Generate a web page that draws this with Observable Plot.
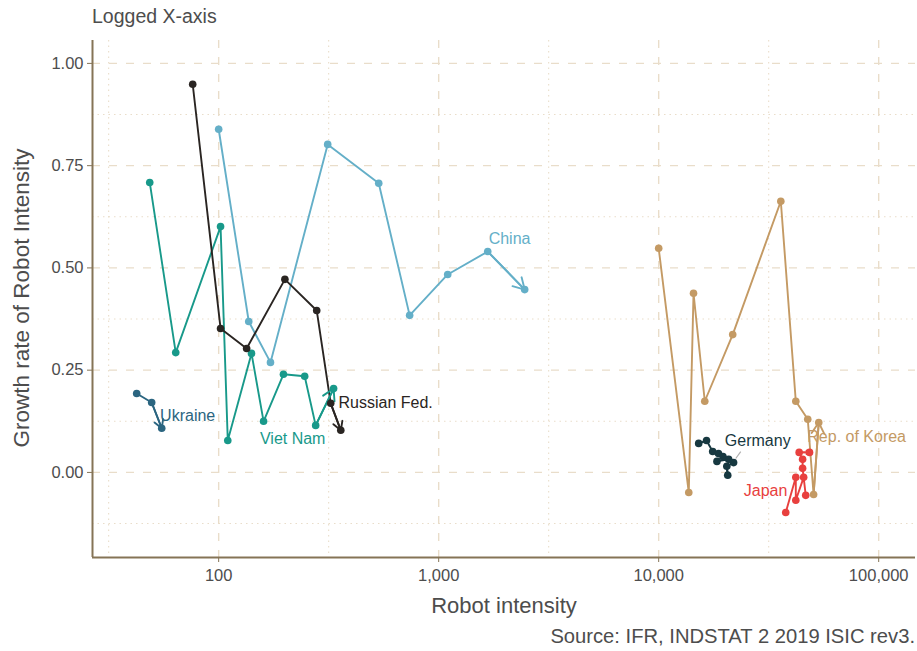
<!DOCTYPE html>
<html>
<head>
<meta charset="utf-8">
<script src="https://cdn.jsdelivr.net/npm/d3@7"></script>
<script src="https://cdn.jsdelivr.net/npm/@observablehq/plot@0.6"></script>
<style>
  body { margin: 0; background: #fff; font-family: "Liberation Sans", Arial, sans-serif; }
  #wrap { position: relative; width: 917px; height: 651px; }
  #chart { position: absolute; left: 0; top: 0; }
  .txt { position: absolute; color: #4d4d4d; white-space: nowrap; line-height: 1; }
  #title { left: 92px; top: 7px; font-size: 19.5px; }
  #xlab { left: 0; width: 1008px; text-align: center; top: 595px; font-size: 22px; }
  #ylab { left: 22px; top: 298px; font-size: 22.5px; transform: translate(-50%, -50%) rotate(-90deg); }
  #caption { right: 2px; top: 626px; font-size: 20.2px; }
</style>
</head>
<body>
<div id="wrap">
  <div id="chart"></div>
  <div class="txt" id="title">Logged X-axis</div>
  <div class="txt" id="ylab">Growth rate of Robot Intensity</div>
  <div class="txt" id="xlab">Robot intensity</div>
  <div class="txt" id="caption">Source: IFR, INDSTAT 2 2019 ISIC rev3.</div>
</div>
<script>
// Robot intensity (x) and its growth rate (y), one path per country, in time order
const chinaIntensity   = [100, 137, 172, 313, 534, 738, 1099, 1671, 2460];
const chinaGrowth      = [0.839, 0.369, 0.269, 0.802, 0.707, 0.384, 0.484, 0.540, 0.447];

const russiaIntensity  = [76.2, 102, 134, 200, 279, 323, 359];
const russiaGrowth     = [0.949, 0.352, 0.303, 0.472, 0.396, 0.169, 0.103];

const vietIntensity    = [48.6, 63.8, 102, 110, 141, 160, 197, 246, 276, 333];
const vietGrowth       = [0.709, 0.293, 0.601, 0.078, 0.291, 0.125, 0.240, 0.235, 0.115, 0.205];

const ukraineIntensity = [42.4, 49.6, 55.1];
const ukraineGrowth    = [0.193, 0.171, 0.108];

const koreaIntensity   = [10000, 13700, 14400, 16200, 21700, 35900, 42000, 47600, 50600, 53400];
const koreaGrowth      = [0.548, -0.049, 0.438, 0.174, 0.337, 0.663, 0.174, 0.130, -0.054, 0.122];

const germanyIntensity = [15200, 16500, 17600, 18700, 19600, 18400, 20800, 21900, 20400, 20600];
const germanyGrowth    = [0.071, 0.078, 0.051, 0.046, 0.039, 0.027, 0.032, 0.024, 0.015, -0.007];

const japanIntensity   = [37800, 42000, 42000, 45600, 46600, 45100, 45100, 43500, 48500];
const japanGrowth      = [-0.098, -0.012, -0.068, -0.012, -0.056, 0.010, 0.032, 0.049, 0.049];

// Country labels and where they sit
const labelNames = ["China", "Ukraine", "Viet Nam", "Russian Fed.", "Germany", "Japan", "Rep. of Korea"];
const labelX     = [2100, 72.3, 217, 574, 28200, 30600, 79400];
const labelY     = [0.570, 0.139, 0.081, 0.169, 0.078, -0.044, 0.086];

// Axis ticks
const xTicks = [100, 1000, 10000, 100000];
const xMinor = [31.62, 316.2, 3162, 31623];
const yTicks = [0, 0.25, 0.5, 0.75, 1];
const yMinor = [-0.125, 0.125, 0.375, 0.625, 0.875];

const palette = {
  "China": "#64afc8",
  "Russian Fed.": "#2a2522",
  "Viet Nam": "#18998a",
  "Ukraine": "#2b6580",
  "Rep. of Korea": "#c49a64",
  "Germany": "#173840",
  "Japan": "#e8403e"
};

const series = [
  ["Viet Nam", vietIntensity, vietGrowth],
  ["China", chinaIntensity, chinaGrowth],
  ["Russian Fed.", russiaIntensity, russiaGrowth],
  ["Ukraine", ukraineIntensity, ukraineGrowth],
  ["Germany", germanyIntensity, germanyGrowth],
  ["Japan", japanIntensity, japanGrowth],
  ["Rep. of Korea", koreaIntensity, koreaGrowth]
];

const points = series.flatMap(([country, xs, ys]) =>
  xs.map((x, i) => ({country, x, y: ys[i], order: i})));

const lastSteps = series.map(([country, xs, ys]) => {
  const n = xs.length;
  return {country, x1: xs[n - 2], y1: ys[n - 2], x2: xs[n - 1], y2: ys[n - 1]};
});

const labels = labelNames.map((name, i) => ({name, x: labelX[i], y: labelY[i]}));

// Leader from the Germany label to its cluster
const germanyLeader = [{x1: 23600, y1: 0.051, x2: 22400, y2: 0.034}];

const xDomain = [26.7, 147000];
const yDomain = [-0.208, 1.056];

const gridColor = "#e9ddca";
const axisColor = "#857456";

const chart = Plot.plot({
  width: 917,
  height: 651,
  marginLeft: 92,
  marginRight: 2,
  marginTop: 40,
  marginBottom: 94,
  style: {fontFamily: "Liberation Sans, Arial, sans-serif", fontSize: "16px", background: "#fff"},
  x: {type: "log", domain: xDomain, axis: null},
  y: {domain: yDomain, axis: null},
  marks: [
    Plot.ruleX(xMinor, {stroke: gridColor, strokeWidth: 1.1, strokeDasharray: "1.5,4"}),
    Plot.ruleY(yMinor, {stroke: gridColor, strokeWidth: 1.1, strokeDasharray: "1.5,4"}),
    Plot.ruleX(xTicks, {stroke: gridColor, strokeWidth: 1.4, strokeDasharray: "8,9"}),
    Plot.ruleY(yTicks, {stroke: gridColor, strokeWidth: 1.4, strokeDasharray: "8,9"}),
    Plot.axisX({ticks: xTicks, tickFormat: d3.format(","), tickSize: 5, tickPadding: 7,
      stroke: axisColor, fill: "#4d4d4d", fontSize: 16.5, label: null}),
    Plot.axisY({ticks: yTicks, tickFormat: d3.format(".2f"), tickSize: 5, tickPadding: 4,
      stroke: axisColor, fill: "#4d4d4d", fontSize: 16.5, label: null}),
    Plot.ruleX([xDomain[0]], {stroke: axisColor, strokeWidth: 2}),
    Plot.ruleY([yDomain[0]], {stroke: axisColor, strokeWidth: 2}),
    Plot.line(points, {x: "x", y: "y", z: "country", stroke: d => palette[d.country], strokeWidth: 1.9}),
    Plot.arrow(lastSteps, {x1: "x1", y1: "y1", x2: "x2", y2: "y2", bend: 0, headLength: 10,
      stroke: d => palette[d.country], strokeWidth: 1.9}),
    Plot.dot(points, {x: "x", y: "y", r: 3.8, fill: d => palette[d.country], stroke: "none"}),
    Plot.link(germanyLeader, {x1: "x1", y1: "y1", x2: "x2", y2: "y2", stroke: "#b0b0b0", strokeWidth: 1.2}),
    Plot.text(labels, {x: "x", y: "y", text: "name", fill: d => palette[d.name], fontSize: 16,
      textAnchor: "middle"})
  ]
});

document.getElementById("chart").appendChild(chart);
</script>
</body>
</html>
